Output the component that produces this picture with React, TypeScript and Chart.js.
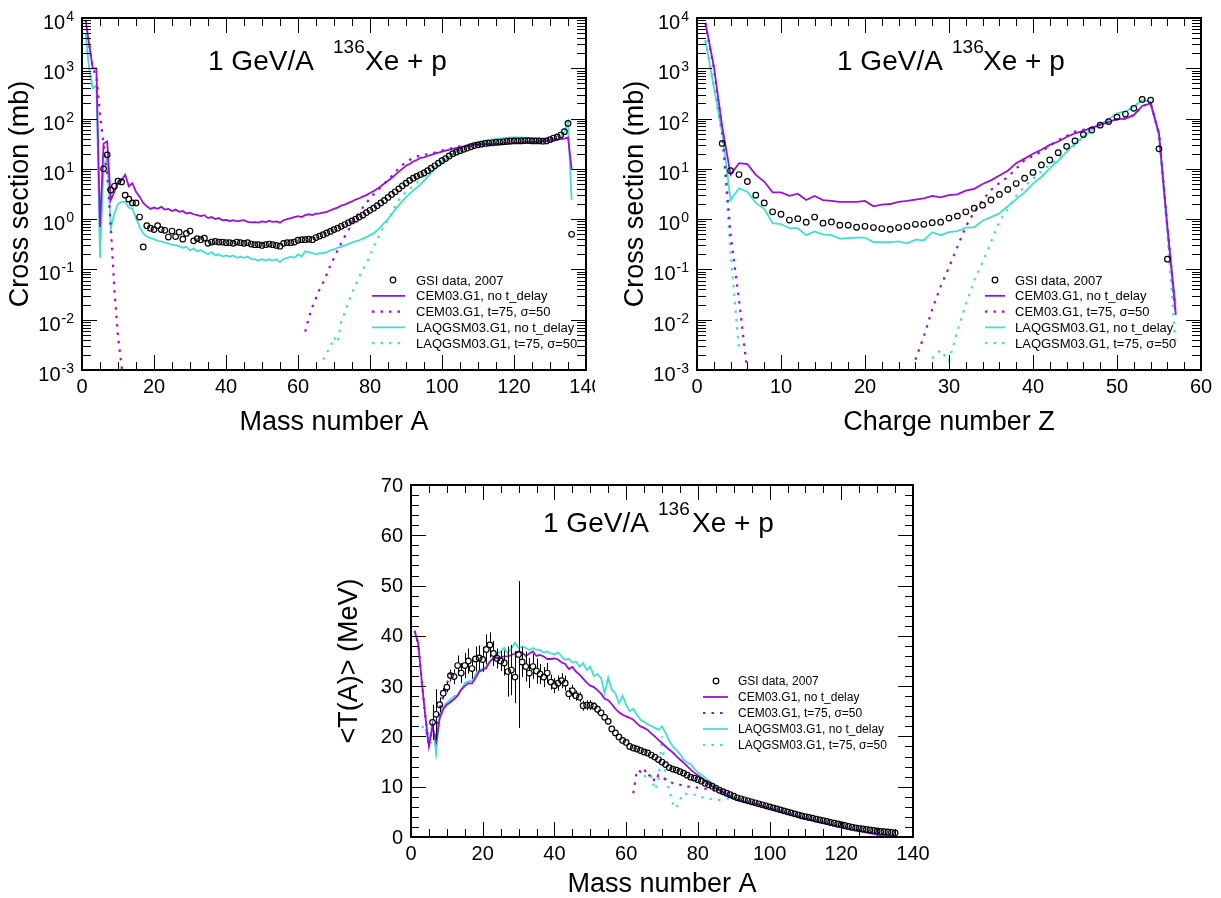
import React, { useEffect, useRef } from "react";
import { Chart, registerables } from "chart.js";
Chart.register(...registerables);

const PURPLE = "#9a0fdc";
const CYAN = "#40e0d0";
const FONT = "'Liberation Sans', Arial, Helvetica, sans-serif";
const DOT = [2.5, 6];
const MARK_R = 2.8;

const LEGEND_TEXT = [
  "GSI data, 2007",
  "CEM03.G1, no t_delay",
  "CEM03.G1, t=75, \u03c3=50",
  "LAQGSM03.G1, no t_delay",
  "LAQGSM03.G1, t=75, \u03c3=50",
];

// ---------------- Panel 1: cross section vs mass number A ----------------
const p1GsiStart = 6;
const p1Gsi = [
  10, 19, 3.8, 4.5, 5.7, 5.5, 3.0, 2.5, 2.1, 2.1,
  1.1, 0.28, 0.74, 0.66, 0.62, 0.74, 0.62, 0.6, 0.44, 0.58,
  0.45, 0.55, 0.4, 0.52, 0.58, 0.37, 0.41, 0.39, 0.42, 0.33,
  0.35, 0.36, 0.35, 0.35, 0.34, 0.34, 0.33, 0.35, 0.34, 0.33,
  0.34, 0.32, 0.31, 0.31, 0.3, 0.31, 0.32, 0.31, 0.3, 0.29,
  0.33, 0.34, 0.34, 0.35, 0.38, 0.39, 0.39, 0.4, 0.39, 0.43,
  0.46, 0.49, 0.53, 0.57, 0.62, 0.66, 0.72, 0.78, 0.85, 0.92,
  1.0, 1.1, 1.2, 1.35, 1.5, 1.65, 1.85, 2.1, 2.35, 2.7,
  3.1, 3.5, 4.0, 4.6, 5.2, 5.9, 6.5, 7.1, 7.7, 8.3,
  9.2, 10.3, 11.5, 13, 14.5, 16, 18, 20, 21.5, 23,
  24.5, 26, 27.5, 29, 30, 31, 32, 32.5, 33, 33.5,
  34, 34.5, 35, 35.5, 36, 36, 36, 36.5, 36.5, 36,
  36, 36, 35.5, 36, 38, 41, 43, 47, 55, 80, 0.5,
];
const p1CemStart = 1;
const p1Cem = [
  9000, 3000, 1000, 1000, 0.7, 32, 35, 2.4, 3.5, 5.6,
  6, 7.6, 4.5, 5.2, 3.5, 2.8, 2.1, 1.8, 1.6, 1.7,
  1.6, 1.75, 1.55, 1.6, 1.45, 1.55, 1.4, 1.45, 1.3, 1.35,
  1.25, 1.2, 1.15, 1.2, 1.05, 1.1, 1.0, 1.05, 0.95, 0.97,
  0.92, 0.95, 0.9, 0.93, 0.95, 0.88, 0.86, 0.87, 0.85, 0.9,
  0.87, 0.92, 0.88, 0.9, 0.85, 0.95, 1.0, 1.05, 1.1, 1.15,
  1.1, 1.2, 1.25, 1.2, 1.28, 1.3, 1.35, 1.4, 1.5, 1.6,
  1.7, 1.85, 1.95, 2.1, 2.25, 2.45, 2.6, 2.8, 3.0, 3.3,
  3.6, 4.0, 4.5, 5.1, 5.8, 6.6, 7.6, 8.8, 10, 11.5,
  12.5, 14, 15, 16.5, 17, 18, 19, 20, 21, 22,
  23, 24, 25, 26, 27, 28, 28.5, 29, 30, 30.5,
  31, 31, 31, 31, 31, 31, 31.5, 32, 32, 32.5,
  33, 33, 33.5, 34, 34, 34.5, 35, 35.5, 36, 36,
  37, 38, 39, 40, 42, 10,
];
const p1LaqStart = 1;
const p1Laq = [
  5000, 1000, 400, 450, 0.17, 11, 17, 0.66, 1.3, 2.0,
  2.2, 2.2, 1.7, 1.6, 1.05, 0.7, 0.52, 0.45, 0.42, 0.4,
  0.37, 0.36, 0.34, 0.33, 0.31, 0.3, 0.29, 0.27, 0.28, 0.24,
  0.26, 0.23, 0.24, 0.22, 0.2, 0.22, 0.19, 0.2, 0.18, 0.19,
  0.18, 0.19, 0.17, 0.18, 0.17, 0.18, 0.16, 0.16, 0.15, 0.16,
  0.15, 0.16, 0.15, 0.16, 0.14, 0.16, 0.17, 0.18, 0.17, 0.2,
  0.18, 0.23, 0.22, 0.21, 0.2, 0.21, 0.21, 0.22, 0.24, 0.25,
  0.27, 0.28, 0.3, 0.32, 0.34, 0.36, 0.38, 0.41, 0.44, 0.48,
  0.52, 0.6, 0.7, 0.85, 1.0, 1.25, 1.55, 1.9, 2.3, 2.7,
  3.2, 3.7, 4.2, 4.9, 5.8, 6.9, 8.3, 10, 11.5, 13,
  15, 17, 19.5, 22, 24.5, 27, 29, 31, 33, 34,
  35, 36.5, 37.5, 38.5, 39.5, 40, 41, 41.5, 42, 42,
  42, 42, 41.5, 41, 41, 40.5, 40, 40, 40, 40,
  40, 40, 42, 55, 85, 2.4,
];
const p1CemDotLowStart = 1;
const p1CemDotLow = [9000, 3000, 1000, 700, 125, 30, 8, 0.7, 0.04, 0.0046, 0.0012, 0.0003];
const p1CemDotHighStart = 62;
const p1CemDotHigh = [
  0.0058, 0.011, 0.018, 0.027, 0.04, 0.055, 0.08, 0.12, 0.17, 0.24,
  0.33, 0.45, 0.6, 0.82, 1.05, 1.35, 1.7, 2.1, 2.6, 3.1,
  3.7, 4.3, 5.1, 6, 7.1, 8.5, 10.5, 12, 13.5, 15,
  16.5, 17.5, 18.5, 19, 19.5, 20, 21, 22, 23, 24,
  25, 26, 27, 28, 28.5,
];
const p1LaqDotLowStart = 1;
const p1LaqDotLow = [5000, 1000, 400, 400];
const p1LaqDotHighStart = 67;
const p1LaqDotHigh = [
  0.0016, 0.0022, 0.0029, 0.0045, 0.0035, 0.009, 0.014, 0.022, 0.034, 0.05,
  0.07, 0.1, 0.13, 0.19, 0.28, 0.39, 0.55, 0.75, 1.0, 1.3,
  1.8, 2.4, 2.9, 3.5, 4.0, 4.5, 5.3, 6.3, 7.2, 8.1,
  9.3, 10.5, 12, 13.5, 15.5, 17.5,
];

// ---------------- Panel 2: cross section vs charge number Z ----------------
const p2GsiStart = 3;
const p2Gsi = [
  32, 9.2, 7.7, 5.6, 3.0, 2.1, 1.4, 1.25, 0.96, 1.02,
  0.87, 1.1, 0.83, 0.88, 0.76, 0.76, 0.69, 0.72, 0.68, 0.65,
  0.63, 0.68, 0.72, 0.79, 0.79, 0.85, 0.87, 1.05, 1.15, 1.4,
  1.65, 1.9, 2.4, 3.1, 3.9, 5.1, 6.5, 8.5, 12, 15,
  21, 28, 36, 48, 59, 74, 87, 107, 123, 160,
  240, 233, 25, 0.16,
];
const p2CemStart = 1;
const p2Cem = [
  8000, 1100, 69, 7.6, 13, 12.5, 7.6, 5.6, 3.4, 3.4,
  2.9, 3.2, 2.4, 2.9, 2.4, 2.3, 2.2, 2.2, 2.2, 2.3,
  1.8, 1.95, 2.0, 2.2, 2.3, 2.45, 2.6, 2.9, 2.7, 3.0,
  3.1, 3.7, 4.0, 5.0, 5.9, 7.4, 9.2, 13, 16, 20,
  24, 30, 35, 43, 51, 57, 66, 75, 85, 98,
  100, 117, 178, 200, 51, 0.71, 0.0125,
];
const p2LaqStart = 1;
const p2Laq = [
  3600, 430, 52, 2.4, 4.1, 3.5, 2.1, 1.6, 0.83, 0.8,
  0.66, 0.66, 0.48, 0.57, 0.5, 0.48, 0.41, 0.42, 0.43, 0.43,
  0.35, 0.35, 0.35, 0.36, 0.33, 0.39, 0.38, 0.55, 0.48, 0.55,
  0.58, 0.68, 0.69, 0.93, 1.1, 1.3, 1.8, 2.5, 3.4, 5.1,
  6.9, 10.2, 14.5, 22, 32, 44, 59, 77, 97, 127,
  137, 174, 233, 218, 44, 0.6, 0.02,
];
const p2CemDotLowStart = 1;
const p2CemDotLow = [8000, 1000, 60, 0.5, 0.025, 0.0009];
const p2CemDotHighStart = 26;
const p2CemDotHigh = [
  0.0016, 0.0046, 0.016, 0.046, 0.11, 0.28, 0.71, 1.4, 2.4, 3.8,
  5.2, 6.9, 10, 15, 18, 22, 29, 37, 45, 55,
  60, 66, 75, 85, 98, 100, 117, 178, 200, 51, 0.71, 0.0125,
];
const p2LaqDotLowStart = 1;
const p2LaqDotLow = [3600, 430, 45, 0.21, 0.0025];
const p2LaqDotHighStart = 28;
const p2LaqDotHigh = [
  0.0017, 0.0025, 0.0015, 0.006, 0.02, 0.06, 0.14, 0.35, 0.9, 1.6,
  2.9, 4.5, 6.3, 9, 12, 16, 22, 30, 44, 59,
  77, 97, 127, 137, 174, 233, 218, 44, 0.5, 0.003,
];

// ---------------- Panel 3: <T(A)> vs mass number A ----------------
const p3GsiStart = 6;
const p3Gsi = [
  22.8, 24.4, 26.3, 28.6, 29.8, 32.1, 31.9, 34.1, 32.6, 34.1,
  35.0, 33.5, 35.4, 35.6, 35.3, 37.3, 38.2, 36.5, 35.5, 35.0,
  34.6, 32.9, 33.2, 31.8, 36.3, 34.8, 33.9, 32.6, 33.9, 33.0,
  32.4, 31.8, 32.6, 30.8, 30.1, 30.6, 31.1, 30.6, 28.5, 29.1,
  28.1, 27.8, 26.1, 26.2, 26.2, 26.0, 25.4, 24.7, 23.8, 23.0,
  21.5, 20.7, 19.9, 19.2, 18.8, 18.0, 17.7, 17.5, 17.2, 16.9,
  16.7, 16.3, 15.9, 15.4, 14.9, 14.4, 13.8, 13.5, 13.3, 13.0,
  12.7, 12.3, 11.9, 11.7, 11.4, 11.1, 10.7, 10.4, 10.1, 9.7,
  9.3, 9.0, 8.7, 8.4, 8.1, 7.8, 7.6, 7.4, 7.2, 7.0,
  6.8, 6.6, 6.4, 6.2, 6.0, 5.8, 5.6, 5.4, 5.2, 5.0,
  4.8, 4.6, 4.4, 4.2, 4.05, 3.9, 3.75, 3.55, 3.4, 3.25,
  3.1, 2.9, 2.75, 2.6, 2.45, 2.3, 2.1, 1.95, 1.8, 1.7,
  1.6, 1.5, 1.4, 1.3, 1.2, 1.1, 1.05, 1.0, 0.9, 0.8,
];
const p3GsiErr = [
  3.5, 5, 1.5, 1, 1, 1.2, 1.5, 2, 2, 2.5,
  2.5, 2, 2.5, 2.5, 2.5, 3, 2.5, 2.5, 2, 2,
  2.5, 5, 5, 5.2, 14.6, 3, 3, 3, 2.5, 2.5,
  2, 2, 2, 1.5, 1.5, 1.5, 1.5, 1.5, 1.2, 1.2,
  1, 1, 1, 1, 1, 0.8, 0.8, 0.6, 0.6, 0.6,
  0.5, 0.5, 0.5, 0.5, 0.5,
];
const p3CemStart = 1;
const p3Cem = [
  41, 38.5, 31, 24, 18, 22, 19, 23.6, 25.4, 26.3,
  26.8, 27.4, 28.1, 29.3, 30.0, 30.6, 30.5, 31.6, 32.9, 33.2,
  33.6, 34.9, 35.6, 35.6, 35.7, 35.9, 35.9, 36.2, 36.5, 36.9,
  36.7, 36.0, 36.5, 36.9, 36.0, 36.2, 35.9, 35.4, 35.4, 35.5,
  35.3, 34.7, 34.4, 33.4, 33.8, 32.9, 32.3, 31.5, 30.7, 30.1,
  29.8, 29.2, 28.5, 27.5, 27.2, 26.4, 25.5, 24.8, 24.3, 24.0,
  23.7, 23.3, 22.6, 22.0, 21.7, 21.3, 20.6, 20.0, 19.3, 18.7,
  18.0, 17.4, 16.8, 16.1, 15.4, 14.8, 14.1, 13.4, 12.8, 12.3,
  11.8, 11.2, 10.6, 10.1, 9.7, 9.4, 8.9, 8.4, 8.0, 7.7,
  7.4, 7.2, 7.0, 6.8, 6.6, 6.5, 6.4, 6.2, 5.9, 5.7,
  5.5, 5.3, 5.1, 4.8, 4.6, 4.4, 4.2, 4.0, 3.8, 3.6,
  3.4, 3.3, 3.1, 2.9, 2.7, 2.6, 2.4, 2.2, 2.0, 1.9,
  1.7, 1.55, 1.4, 1.3, 1.15, 1.0, 0.85, 0.7, 0.6, 0.45,
  0.35, 0.3, 0.25, 0.2,
];
const p3LaqStart = 4;
const p3Laq = [
  21.5, 18.5, 22.5, 17, 24, 26, 26.7, 27.3, 28, 28.2,
  29.3, 30.6, 31, 31, 32.3, 33.2, 33.5, 33.9, 34.9, 35.6,
  36.3, 36.9, 37.6, 36.5, 37.6, 38.6, 37.6, 37.9, 37.6, 37.2,
  37.6, 37.2, 37.2, 36.7, 36.9, 36.5, 36.3, 36.7, 35.9, 35.2,
  35.5, 34.7, 34.9, 33.9, 34.6, 33.2, 33.9, 32.0, 32.4, 31.6,
  28.6, 31.7, 29.3, 28.6, 26.6, 28.1, 26.3, 25.0, 25.5, 24.3,
  23.3, 22.9, 22.4, 22.1, 21.7, 21.3, 22.0, 20.7, 19.2, 18.0,
  17.3, 16.5, 15.4, 14.8, 14.5, 13.6, 12.9, 12.4, 11.8, 11.2,
  10.6, 10.0, 9.4, 8.9, 8.5, 8.1, 7.8, 7.5, 7.3, 7.1,
  6.9, 6.7, 6.5, 6.3, 6.1, 5.9, 5.7, 5.5, 5.3, 5.1,
  4.9, 4.7, 4.5, 4.3, 4.1, 3.9, 3.75, 3.6, 3.4, 3.25,
  3.1, 2.95, 2.75, 2.6, 2.4, 2.25, 2.1, 1.95, 1.8, 1.6,
  1.5, 1.35, 1.2, 1.05, 0.9, 0.8, 0.7, 0.55, 0.45, 0.35, 0.25, 0.2,
];
const p3CemDotLowStart = 1;
const p3CemDotLow = [41, 38.5, 31, 24, 18, 22, 19, 25.5, 28, 30.5, 32.5, 32.8];
const p3CemDotHighStart = 62;
const p3CemDotHigh = [
  8.7, 13.3, 13.0, 13.7, 12.0, 12.5, 11.0, 12.3, 12.0, 11.4,
  11.2, 10.7, 10.6, 10.4, 10.2, 10.0, 10.0, 9.9, 9.8, 9.7,
  9.6, 9.5, 9.4, 9.2, 9.0, 8.7, 8.4, 8.0, 7.7,
];
const p3LaqDotLowStart = 3;
const p3LaqDotLow = [22, 21.5, 18.5, 22.5, 17, 24];
const p3LaqDotHighStart = 65;
const p3LaqDotHigh = [
  12.3, 11.5, 12.0, 9.4, 11.0, 20.0, 11.7, 9.4, 6.7, 5.7,
  7.4, 8.7, 8.5, 8.4, 8.4, 8.4, 8.0, 7.7, 7.6, 7.5,
  7.4, 7.4, 7.5, 7.6, 7.7, 7.6,
];

// ---------------- helpers ----------------
type Pt = { x: number; y: number | null };
function pts(start: number, vals: number[]): Pt[] {
  return vals.map((v, i) => ({ x: start + i, y: v }));
}
function twoSeg(s1: number, v1: number[], s2: number, v2: number[]): Pt[] {
  const gapX = (s1 + v1.length - 1 + s2) / 2;
  return [...pts(s1, v1), { x: gapX, y: null }, ...pts(s2, v2)];
}

function makeDatasets(gsi: Pt[], cem: Pt[], cemDot: Pt[], laq: Pt[], laqDot: Pt[]) {
  return [
    {
      data: gsi, showLine: false, pointRadius: MARK_R, pointBorderWidth: 1.2,
      pointBorderColor: "#000", pointBackgroundColor: "rgba(0,0,0,0)", pointStyle: "circle",
    },
    { data: cem, borderColor: PURPLE, borderWidth: 1.8, pointRadius: 0, spanGaps: false },
    { data: cemDot, borderColor: PURPLE, borderWidth: 2.2, borderDash: DOT, pointRadius: 0, spanGaps: false },
    { data: laq, borderColor: CYAN, borderWidth: 1.8, pointRadius: 0, spanGaps: false },
    { data: laqDot, borderColor: CYAN, borderWidth: 2.2, borderDash: DOT, pointRadius: 0, spanGaps: false },
  ];
}

type PanelCfg = {
  left: number; top: number; width: number; height: number;
  pad: { left: number; top: number; right: number; bottom: number };
  xMin: number; xMax: number; xMajor: number; xMinor: number;
  yLog: boolean; yMin: number; yMax: number; yMajor: number; yMinor: number;
  xTitle: string; yTitle: string; xTitleOff: number;
  titleX: number[]; titleY: number;
  leg: { sym: number; l0: number; l1: number; text: number; y: number; dy: number; font: number };
  datasets: any[];
  err?: { start: number; vals: number[]; gsiStart: number; gsi: number[] };
};

function makePlugin(cfg: PanelCfg) {
  return {
    id: "rootAxes",
    afterDatasetsDraw(chart: any) {
      if (!cfg.err) return;
      const ctx = chart.ctx;
      const xs = chart.scales.x, ys = chart.scales.y;
      ctx.save();
      ctx.strokeStyle = "#000";
      ctx.lineWidth = 1;
      const r = MARK_R;
      cfg.err.vals.forEach((e, i) => {
        const A = cfg.err!.start + i;
        const v = cfg.err!.gsi[A - cfg.err!.gsiStart];
        const px = Math.round(xs.getPixelForValue(A)) + 0.5;
        const pc = ys.getPixelForValue(v);
        const pt = ys.getPixelForValue(v + e);
        const pb = ys.getPixelForValue(v - e);
        ctx.beginPath();
        if (pc - r > pt) { ctx.moveTo(px, pt); ctx.lineTo(px, pc - r); }
        if (pb > pc + r) { ctx.moveTo(px, pc + r); ctx.lineTo(px, pb); }
        ctx.stroke();
      });
      ctx.restore();
    },
    afterDraw(chart: any) {
      const ctx = chart.ctx;
      const a = chart.chartArea;
      const xs = chart.scales.x, ys = chart.scales.y;
      ctx.save();
      ctx.strokeStyle = "#000";
      ctx.fillStyle = "#000";
      ctx.lineWidth = 1;
      const line = (x1: number, y1: number, x2: number, y2: number) => {
        ctx.beginPath(); ctx.moveTo(x1, y1); ctx.lineTo(x2, y2); ctx.stroke();
      };
      // x ticks
      const nx = Math.round((cfg.xMax - cfg.xMin) / cfg.xMinor);
      for (let i = 0; i <= nx; i++) {
        const v = cfg.xMin + i * cfg.xMinor;
        const px = Math.round(xs.getPixelForValue(v)) + 0.5;
        const q = v / cfg.xMajor;
        const major = Math.abs(q - Math.round(q)) < 1e-6;
        const len = major ? 15 : 8;
        line(px, a.bottom, px, a.bottom - len);
        line(px, a.top, px, a.top + len);
      }
      // y ticks
      if (cfg.yLog) {
        const e0 = Math.round(Math.log10(cfg.yMin));
        const e1 = Math.round(Math.log10(cfg.yMax));
        for (let e = e0; e <= e1; e++) {
          for (let m = 1; m <= 9; m++) {
            const v = m * Math.pow(10, e);
            if (v > cfg.yMax * 1.0001) break;
            const py = Math.round(ys.getPixelForValue(v)) + 0.5;
            const len = m === 1 ? 15 : 9;
            line(a.left, py, a.left + len, py);
            line(a.right, py, a.right - len, py);
          }
        }
      } else {
        const ny = Math.round((cfg.yMax - cfg.yMin) / cfg.yMinor);
        for (let i = 0; i <= ny; i++) {
          const v = cfg.yMin + i * cfg.yMinor;
          const py = Math.round(ys.getPixelForValue(v)) + 0.5;
          const q = v / cfg.yMajor;
          const major = Math.abs(q - Math.round(q)) < 1e-6;
          const len = major ? 15 : 8;
          line(a.left, py, a.left + len, py);
          line(a.right, py, a.right - len, py);
        }
      }
      // frame
      ctx.lineWidth = 2;
      ctx.strokeRect(a.left, a.top, a.right - a.left, a.bottom - a.top);

      // x tick labels
      ctx.font = `20px ${FONT}`;
      ctx.textAlign = "center";
      ctx.textBaseline = "alphabetic";
      const nMaj = Math.round((cfg.xMax - cfg.xMin) / cfg.xMajor);
      for (let i = 0; i <= nMaj; i++) {
        const v = cfg.xMin + i * cfg.xMajor;
        ctx.fillText(String(v), xs.getPixelForValue(v), a.bottom + 23);
      }
      // y tick labels
      if (cfg.yLog) {
        const e0 = Math.round(Math.log10(cfg.yMin));
        const e1 = Math.round(Math.log10(cfg.yMax));
        for (let e = e0; e <= e1; e++) {
          const py = ys.getPixelForValue(Math.pow(10, e));
          const ex = String(e);
          ctx.font = `14px ${FONT}`;
          ctx.textAlign = "right";
          const ew = ctx.measureText(ex).width;
          const xr = a.left - 8;
          ctx.fillText(ex, xr, py + 3);
          ctx.font = `20px ${FONT}`;
          ctx.fillText("10", xr - ew - 1, py + 11);
        }
      } else {
        ctx.font = `20px ${FONT}`;
        ctx.textAlign = "right";
        ctx.textBaseline = "middle";
        const nyMaj = Math.round((cfg.yMax - cfg.yMin) / cfg.yMajor);
        for (let i = 0; i <= nyMaj; i++) {
          const v = cfg.yMin + i * cfg.yMajor;
          ctx.fillText(String(v), a.left - 8, ys.getPixelForValue(v) + 1);
        }
        ctx.textBaseline = "alphabetic";
      }
      // axis titles
      ctx.font = `27px ${FONT}`;
      ctx.textAlign = "center";
      ctx.textBaseline = "alphabetic";
      ctx.fillText(cfg.xTitle, (a.left + a.right) / 2, a.bottom + cfg.xTitleOff);
      ctx.save();
      ctx.translate(a.left - 54, (a.top + a.bottom) / 2);
      ctx.rotate(-Math.PI / 2);
      ctx.fillText(cfg.yTitle, 0, 0);
      ctx.restore();

      // plot title
      ctx.textAlign = "left";
      ctx.font = `28px ${FONT}`;
      ctx.fillText("1 GeV/A", a.left + cfg.titleX[0], a.top + cfg.titleY);
      ctx.font = `19px ${FONT}`;
      ctx.fillText("136", a.left + cfg.titleX[1], a.top + cfg.titleY - 17);
      ctx.font = `28px ${FONT}`;
      ctx.fillText("Xe + p", a.left + cfg.titleX[2], a.top + cfg.titleY);

      // legend
      const L = cfg.leg;
      ctx.font = `${L.font}px ${FONT}`;
      ctx.textBaseline = "middle";
      const styles = [
        null,
        { c: PURPLE, d: [] as number[] },
        { c: PURPLE, d: DOT },
        { c: CYAN, d: [] as number[] },
        { c: CYAN, d: DOT },
      ];
      LEGEND_TEXT.forEach((t, i) => {
        const y = a.top + L.y + i * L.dy;
        const st = styles[i];
        if (!st) {
          ctx.beginPath();
          ctx.lineWidth = 1.2;
          ctx.strokeStyle = "#000";
          ctx.arc(a.left + L.sym, y, MARK_R, 0, Math.PI * 2);
          ctx.stroke();
        } else {
          ctx.beginPath();
          ctx.strokeStyle = st.c;
          ctx.lineWidth = st.d.length ? 2.2 : 1.8;
          ctx.setLineDash(st.d);
          ctx.moveTo(a.left + L.l0, y);
          ctx.lineTo(a.left + L.l1, y);
          ctx.stroke();
          ctx.setLineDash([]);
        }
        ctx.fillStyle = "#000";
        ctx.fillText(t, a.left + L.text, y + 1);
      });
      ctx.restore();
    },
  };
}

const panels: PanelCfg[] = [
  {
    left: 0, top: 0, width: 595, height: 440,
    pad: { left: 82, top: 18, right: 9, bottom: 70 },
    xMin: 0, xMax: 140, xMajor: 20, xMinor: 5,
    yLog: true, yMin: 1e-3, yMax: 1e4, yMajor: 10, yMinor: 1,
    xTitle: "Mass number A", yTitle: "Cross section (mb)", xTitleOff: 60,
    titleX: [126, 251, 283], titleY: 52,
    leg: { sym: 311, l0: 290, l1: 323, text: 334, y: 262, dy: 15.8, font: 13 },
    datasets: makeDatasets(
      pts(p1GsiStart, p1Gsi),
      pts(p1CemStart, p1Cem),
      twoSeg(p1CemDotLowStart, p1CemDotLow, p1CemDotHighStart, p1CemDotHigh),
      pts(p1LaqStart, p1Laq),
      twoSeg(p1LaqDotLowStart, p1LaqDotLow, p1LaqDotHighStart, p1LaqDotHigh)
    ),
  },
  {
    left: 597, top: 0, width: 624, height: 440,
    pad: { left: 100, top: 18, right: 20, bottom: 70 },
    xMin: 0, xMax: 60, xMajor: 10, xMinor: 2,
    yLog: true, yMin: 1e-3, yMax: 1e4, yMajor: 10, yMinor: 1,
    xTitle: "Charge number Z", yTitle: "Cross section (mb)", xTitleOff: 60,
    titleX: [140, 255, 286], titleY: 52,
    leg: { sym: 298, l0: 288, l1: 308, text: 318, y: 262, dy: 15.8, font: 13 },
    datasets: makeDatasets(
      pts(p2GsiStart, p2Gsi),
      pts(p2CemStart, p2Cem),
      twoSeg(p2CemDotLowStart, p2CemDotLow, p2CemDotHighStart, p2CemDotHigh),
      pts(p2LaqStart, p2Laq),
      twoSeg(p2LaqDotLowStart, p2LaqDotLow, p2LaqDotHighStart, p2LaqDotHigh)
    ),
  },
  {
    left: 300, top: 445, width: 700, height: 453,
    pad: { left: 111, top: 40, right: 87, bottom: 61 },
    xMin: 0, xMax: 140, xMajor: 20, xMinor: 5,
    yLog: false, yMin: 0, yMax: 70, yMajor: 10, yMinor: 2,
    xTitle: "Mass number A", yTitle: "<T(A)> (MeV)", xTitleOff: 55,
    titleX: [132, 247, 281], titleY: 47,
    leg: { sym: 305, l0: 292, l1: 317, text: 327, y: 196, dy: 16, font: 12 },
    datasets: makeDatasets(
      pts(p3GsiStart, p3Gsi),
      pts(p3CemStart, p3Cem),
      twoSeg(p3CemDotLowStart, p3CemDotLow, p3CemDotHighStart, p3CemDotHigh),
      pts(p3LaqStart, p3Laq),
      twoSeg(p3LaqDotLowStart, p3LaqDotLow, p3LaqDotHighStart, p3LaqDotHigh)
    ),
    err: { start: p3GsiStart, vals: p3GsiErr, gsiStart: p3GsiStart, gsi: p3Gsi },
  },
];

function Panel({ cfg }: { cfg: PanelCfg }) {
  const ref = useRef<HTMLCanvasElement | null>(null);
  useEffect(() => {
    if (!ref.current) return;
    const chart = new Chart(ref.current, {
      type: "line",
      data: { datasets: cfg.datasets },
      options: {
        responsive: false,
        animation: false,
        events: [],
        devicePixelRatio: 1,
        layout: { padding: cfg.pad },
        plugins: {
          legend: { display: false },
          tooltip: { enabled: false },
          title: { display: false },
        },
        elements: { line: { tension: 0 } },
        scales: {
          x: { type: "linear", min: cfg.xMin, max: cfg.xMax, display: false },
          y: {
            type: cfg.yLog ? "logarithmic" : "linear",
            min: cfg.yMin,
            max: cfg.yMax,
            display: false,
          },
        },
      } as any,
      plugins: [makePlugin(cfg) as any],
    });
    return () => chart.destroy();
  }, [cfg]);
  return (
    <canvas
      ref={ref}
      width={cfg.width}
      height={cfg.height}
      style={{ position: "absolute", left: cfg.left, top: cfg.top, width: cfg.width, height: cfg.height }}
    />
  );
}

export default function App() {
  return (
    <div style={{ position: "absolute", left: 0, top: 0, width: 1221, height: 898, background: "#fff", overflow: "hidden" }}>
      {panels.map((p, i) => (
        <Panel key={i} cfg={p} />
      ))}
    </div>
  );
}
